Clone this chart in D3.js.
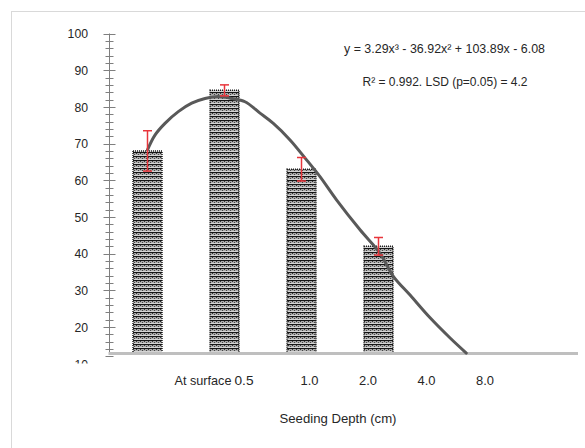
<!DOCTYPE html>
<html>
<head>
<meta charset="utf-8">
<script src="https://cdn.jsdelivr.net/npm/d3@7"></script>
<style>
  html, body { margin: 0; padding: 0; background: #fff; }
  svg { display: block; }
  text { font-family: "Liberation Sans", "DejaVu Sans", sans-serif; fill: #262626; }
</style>
</head>
<body>
<svg id="chart" width="585" height="448"></svg>
<script>
// Emergence (%) by seeding depth
const depths = ["At surface", "0.5", "1.0", "2.0", "4.0", "8.0"];
const barValues = [68, 84.5, 63, 42];
const barErrors = [5.5, 1.5, 3.2, 2.4];

// Fitted cubic trend, sampled along the category position (0 = first bar)
const trendX = [0, 0.097, 0.227, 0.4, 0.574, 0.747, 0.919, 1.094, 1.266, 1.461, 1.634, 1.851,
                2.068, 2.24, 2.457, 2.76, 3.02, 3.19, 3.41, 3.67, 3.93, 4.14];
const trendY = [68.3, 72.3, 75.5, 78.7, 81.0, 82.3, 82.8, 82.3, 81.4, 78.3, 75.5, 71.0,
                65.5, 61.0, 54.6, 46.5, 40.1, 33.9, 28.7, 22.5, 17.0, 12.9];

const yTicks = [10, 20, 30, 40, 50, 60, 70, 80, 90, 100];
const equationText = "y = 3.29x³ - 36.92x² + 103.89x - 6.08";
const statsText = "R² = 0.992. LSD (p=0.05) = 4.2";
const axisTitle = "Seeding Depth (cm)";

const svg = d3.select("#chart");

// outer frame
svg.append("rect").attr("x", 11.5).attr("y", 11.5).attr("width", 600).attr("height", 500)
  .attr("fill", "none").attr("stroke", "#d9d9d9").attr("stroke-width", 1);

const y = d3.scaleLinear().domain([10, 100]).range([363.7, 33.5]);
const x = d3.scaleLinear().domain([0, 1]).range([147.5, 224.5]);
const axisX = 109.5;
const baseY = 353.5;
const barW = 29;

// bar texture: grey bands with dark speckled rows
const defs = svg.append("defs");
const pat = defs.append("pattern").attr("id", "barTex").attr("patternUnits", "userSpaceOnUse")
  .attr("width", 4).attr("height", 4);
pat.append("rect").attr("width", 4).attr("height", 4).attr("fill", "#a8a8a8");
pat.append("rect").attr("y", 0).attr("width", 4).attr("height", 1).attr("fill", "#151515");
pat.append("rect").attr("x", 0).attr("y", 1).attr("width", 1).attr("height", 1).attr("fill", "#333");
pat.append("rect").attr("x", 2).attr("y", 2).attr("width", 1).attr("height", 1).attr("fill", "#444");
pat.append("rect").attr("y", 3).attr("width", 4).attr("height", 1).attr("fill", "#d4d4d4");

defs.append("clipPath").attr("id", "labelClip")
  .append("rect").attr("x", 0).attr("y", 0).attr("width", 585).attr("height", 363.5);

// y axis: major ticks every 10, minor every 2
const yAxisG = svg.append("g");
yAxisG.append("line").attr("x1", axisX).attr("x2", axisX)
  .attr("y1", y(100)).attr("y2", baseY).attr("stroke", "#7f7f7f").attr("stroke-width", 1);
const minor = d3.range(12, 101, 2).filter(v => v % 10 !== 0);
yAxisG.selectAll("line.minor").data(minor).join("line").attr("class", "minor")
  .attr("x1", axisX - 4).attr("x2", axisX + 4)
  .attr("y1", d => Math.round(y(d)) + 0.5).attr("y2", d => Math.round(y(d)) + 0.5)
  .attr("stroke", "#7f7f7f");
yAxisG.selectAll("line.major").data(yTicks.filter(v => v > 10)).join("line").attr("class", "major")
  .attr("x1", axisX - 6).attr("x2", axisX + 6)
  .attr("y1", d => Math.round(y(d)) + 0.5).attr("y2", d => Math.round(y(d)) + 0.5)
  .attr("stroke", "#7f7f7f");
svg.append("g").attr("clip-path", "url(#labelClip)")
  .selectAll("text").data(yTicks).join("text")
  .attr("x", 88).attr("y", d => y(d)).attr("dy", "0.36em")
  .attr("text-anchor", "end").attr("font-size", 13.5)
  .attr("textLength", d => String(d).length * 6.8).attr("lengthAdjust", "spacingAndGlyphs")
  .text(d => d);

// bars
svg.selectAll("rect.bar").data(barValues).join("rect").attr("class", "bar")
  .attr("x", (d, i) => x(i) - barW / 2).attr("width", barW)
  .attr("y", d => y(d)).attr("height", d => baseY - y(d))
  .attr("fill", "url(#barTex)").attr("stroke", "#1e1e1e").attr("stroke-width", 1.5)
  .attr("stroke-dasharray", "1,1");

// x axis baseline
svg.append("line").attr("x1", axisX - 1).attr("x2", 578).attr("y1", baseY).attr("y2", baseY)
  .attr("stroke", "#bfbfbf").attr("stroke-width", 3);

// trend curve
const line = d3.line().x(d => x(d[0])).y(d => y(d[1])).curve(d3.curveCatmullRom.alpha(0.5));
svg.append("path").datum(d3.zip(trendX, trendY)).attr("d", line)
  .attr("fill", "none").attr("stroke", "#595959").attr("stroke-width", 3)
  .attr("stroke-linecap", "round");

// error bars
const eb = svg.selectAll("g.err").data(barValues).join("g").attr("class", "err");
eb.append("line").attr("x1", (d, i) => x(i)).attr("x2", (d, i) => x(i))
  .attr("y1", (d, i) => y(d + barErrors[i])).attr("y2", (d, i) => y(d - barErrors[i]))
  .attr("stroke", "#e8353b").attr("stroke-width", 1.5);
[1, -1].forEach(s => {
  eb.append("line").attr("x1", (d, i) => x(i) - 4.5).attr("x2", (d, i) => x(i) + 4.5)
    .attr("y1", (d, i) => y(d + s * barErrors[i])).attr("y2", (d, i) => y(d + s * barErrors[i]))
    .attr("stroke", "#e8353b").attr("stroke-width", 1.5);
});

// category labels along the depth axis
const lx = d3.scalePoint().domain(depths).range([192.5, 485]);
const nudge = { "At surface": [231.5, "end", 57], "0.5": [234.5, "start", 19] };
svg.selectAll("text.cat").data(depths).join("text").attr("class", "cat")
  .attr("x", d => nudge[d] ? nudge[d][0] : lx(d))
  .attr("text-anchor", d => nudge[d] ? nudge[d][1] : "middle")
  .attr("y", 385).attr("font-size", 13.5)
  .attr("textLength", d => nudge[d] ? nudge[d][2] : 18).attr("lengthAdjust", "spacingAndGlyphs")
  .text(d => d);

svg.append("text").attr("x", 338).attr("y", 423).attr("text-anchor", "middle")
  .attr("font-size", 13.5).attr("textLength", 117).attr("lengthAdjust", "spacingAndGlyphs")
  .text(axisTitle);

svg.append("text").attr("x", 444.5).attr("y", 53).attr("text-anchor", "middle")
  .attr("font-size", 13.5).attr("textLength", 201).attr("lengthAdjust", "spacingAndGlyphs")
  .text(equationText);
svg.append("text").attr("x", 445).attr("y", 86).attr("text-anchor", "middle")
  .attr("font-size", 13.5).attr("textLength", 165).attr("lengthAdjust", "spacingAndGlyphs")
  .text(statsText);
</script>
</body>
</html>
